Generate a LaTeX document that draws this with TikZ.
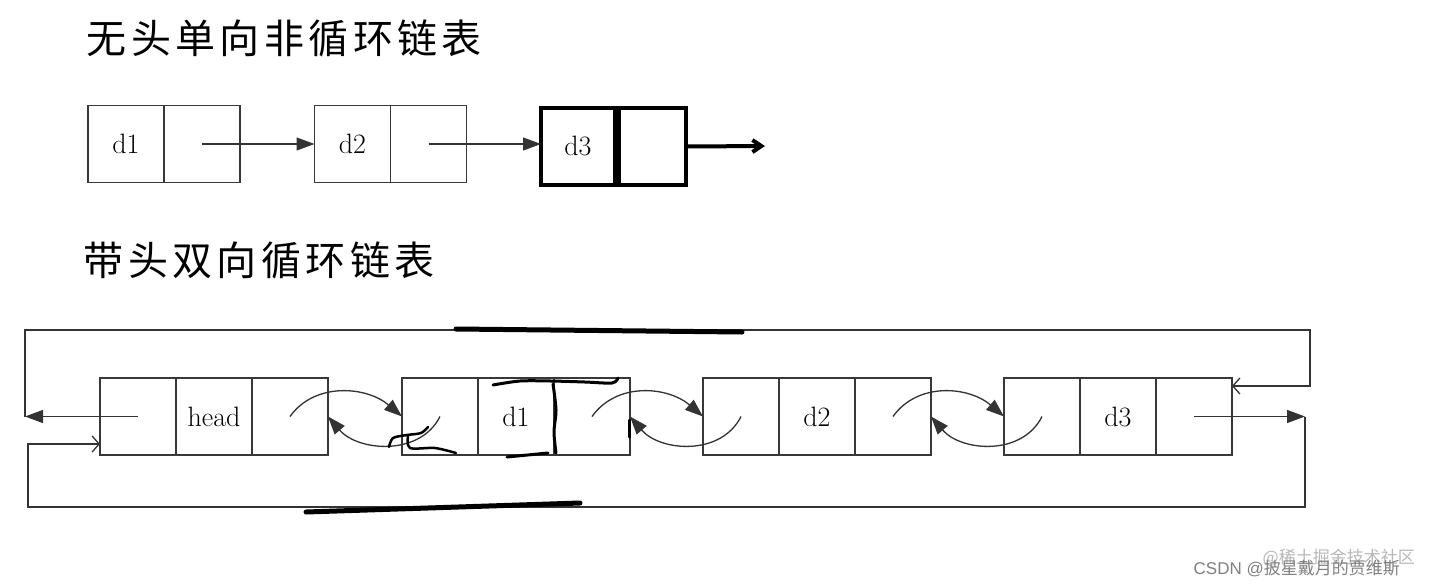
\documentclass[tikz,border=0pt]{standalone}
\usepackage{fontspec}
\newfontfamily\cjk[LetterSpace=11]{Noto Sans CJK SC}
\newfontfamily\cjkw{Noto Sans CJK SC}
\setsansfont{Liberation Sans}
\usetikzlibrary{arrows.meta,positioning}

\begin{document}
\begin{tikzpicture}[x=1pt,y=-1pt,line width=1.3pt,
  cell/.style={draw=black!78,minimum width=76pt,minimum height=77pt,inner sep=0pt,outer sep=0pt,
    font=\fontsize{28}{30}\selectfont},
  boldcell/.style={cell,draw=black,line width=4.5pt},
  link/.style={draw=black!80,-{Triangle[length=18pt,width=13pt]}},
  back/.style={draw=black!80,-{Straight Barb[length=7pt,width=16pt]}},
  ink/.style={draw=black,line width=4pt,line cap=round,line join=round},
  title/.style={anchor=west,inner sep=0pt,font=\cjk\fontsize{40}{44}\selectfont}]
  \useasboundingbox[fill=white] (0,0) rectangle (1439,587);
  % ===================== titulos =====================
  \node[title] (t1) at (86,38) {无头单向非循环链表};
  \node[title] (t2) at (83,260) {带头双向循环链表};
  % ===================== lista simple (arriba) =====================
  \node[cell] (s1) at (126,144) {d1};
  \node[cell,right=0pt of s1] (s1n) {};
  \node[cell] (s2) at (352.5,144) {d2};
  \node[cell,right=0pt of s2] (s2n) {};
  \node[boldcell,minimum width=74pt] (s3) at (578,146.5) {d3};
  \node[boldcell,minimum width=71pt,right=0pt of s3] (s3n) {};
  \draw[black,line width=4pt] ([xshift=4pt]s3n.north west) -- ([xshift=4pt]s3n.south west);
  \coordinate (s3out) at (765,146);
  \draw[link] (s1n.center) -- (s2.west);
  \draw[link] (s2n.center) -- (s2n.center -| s3.west);
  \draw[ink,-{Straight Barb[length=9pt,width=12pt]}] (s3n.east) -- (s3out);
  % ===================== lista doble circular (abajo) =====================
  % head
  \node[cell] (hp) at (138,416.5) {};
  \node[cell,right=0pt of hp] (hd) {head};
  \node[cell,right=0pt of hd] (hn) {};
  % d1
  \node[cell] (ap) at (440,416.5) {};
  \node[cell,right=0pt of ap] (ad) {d1};
  \node[cell,right=0pt of ad] (an) {};
  % d2
  \node[cell] (bp) at (741,416.5) {};
  \node[cell,right=0pt of bp] (bd) {d2};
  \node[cell,right=0pt of bd] (bn) {};
  % d3
  \node[cell] (cp) at (1042,416.5) {};
  \node[cell,right=0pt of cp] (cd) {d3};
  \node[cell,right=0pt of cd] (cn) {};
  % ---------- enlaces next / prev ----------
  \draw[link] (hn.center) .. controls +(25,-35) and +(-35,-30) .. (ap.west);
  \draw[link] (ap.center) .. controls +(-20,40) and +(30,35) .. (hn.east);
  \draw[link] (an.center) .. controls +(25,-35) and +(-35,-30) .. (bp.west);
  \draw[link] (bp.center) .. controls +(-20,40) and +(30,35) .. (an.east);
  \draw[link] (bn.center) .. controls +(25,-35) and +(-35,-30) .. (cp.west);
  \draw[link] (cp.center) .. controls +(-20,40) and +(30,35) .. (bn.east);
  % ---------- lazo circular ----------
  \coordinate (lout) at (25,416.5);
  \coordinate (ltop) at (25,330);
  \coordinate (rtop) at (1310,330);
  \coordinate (rin) at ([yshift=30.5pt]cn.east);
  \coordinate (rout) at (1305,416.5);
  \coordinate (rbot) at (1305,507);
  \coordinate (lbot) at (28,507);
  \coordinate (lin) at (28,444);
  \draw[link] (hp.center) -- (lout);
  \draw[back] (lout) -- (ltop) -- (rtop) |- (rin);
  \draw[link] (cn.center) -- (rout);
  \draw[back] (rout) -- (rbot) -- (lbot) -- (lin) -- (hp.west |- lin);
  % ---------- trazos a mano ----------
  \draw[ink,line width=5pt] (456,329) -- (742,332);
  \draw[ink,line width=5pt] (306,512) -- (580,503);
  \draw[ink,line width=3pt] plot[smooth] coordinates {(493,385) (520,381) (551,381) (585,382) (612,383) (618,378)};
  \draw[ink,line width=3pt] plot[smooth] coordinates {(553,384) (556,410) (554,432) (556,453)};
  \draw[ink,line width=3pt] (507,457) -- (548,453);
  \draw[ink,line width=3pt] (629,420) -- (629,437);
  \draw[ink,line width=2.5pt] plot[smooth] coordinates {(389,447) (393,438) (407,435) (421,433) (428,427)};
  \draw[ink,line width=2.5pt] plot[smooth] coordinates {(408,436) (410,448) (435,448) (456,453)};
  % ---------- marca de agua ----------
  \node[anchor=west,inner sep=0pt,text=black!28,font=\cjkw\fontsize{17}{18}\selectfont] (wm2) at (1262,558) {@稀土掘金技术社区};
  \node[anchor=west,inner sep=0pt,text=black!50,font=\sffamily\fontsize{17}{18}\selectfont] (wm) at (1193,568) {CSDN @\cjkw 披星戴月的贾维斯};
\end{tikzpicture}
\end{document}
